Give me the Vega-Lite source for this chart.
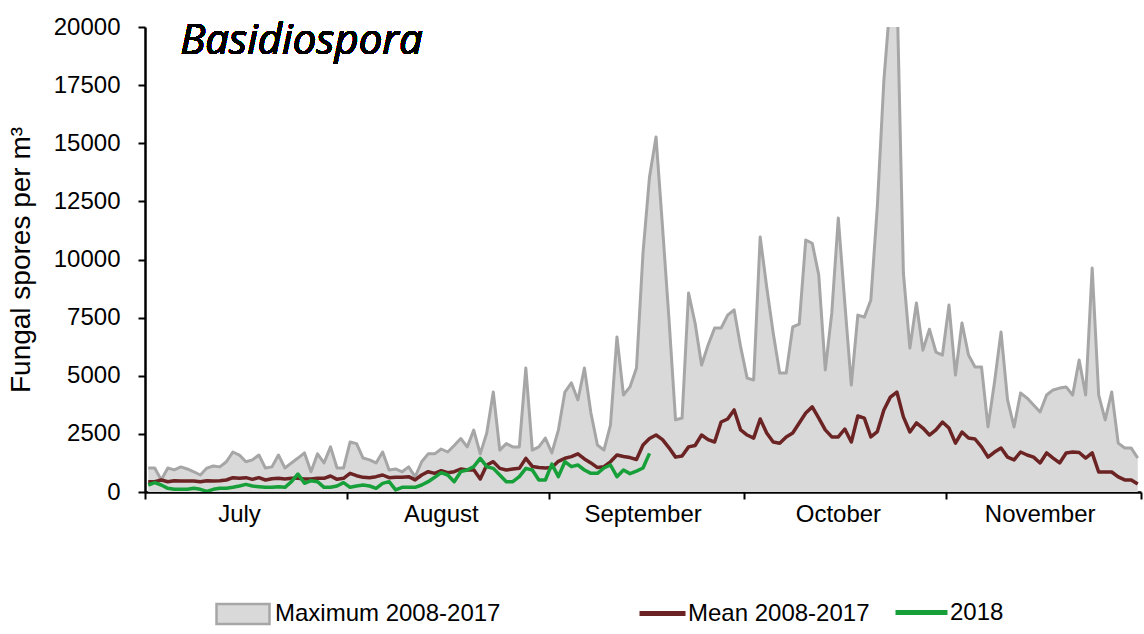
{
  "$schema": "https://vega.github.io/schema/vega-lite/v6.json",
  "width": 996,
  "height": 465,
  "autosize": {"type": "none"},
  "padding": {"left": 145, "top": 27, "right": 3, "bottom": 142},
  "background": "white",
  "config": {
    "view": {"stroke": null},
    "font": "Liberation Sans",
    "axis": {"grid": false, "domainColor": "black", "tickColor": "black", "labelColor": "black", "titleColor": "black", "labelFont": "Liberation Sans", "titleFont": "Liberation Sans"},
    "legend": {
      "orient": "none",
      "direction": "horizontal",
      "title": null,
      "labelFont": "Liberation Sans",
      "labelFontSize": 24,
      "labelColor": "black",
      "labelLimit": 600,
      "labelOffset": 4
    }
  },
  "resolve": {"scale": {"color": "independent"}, "legend": {"color": "independent"}},
  "data": {
    "values": [
      {"d":1,"max":1030,"mean":443,"y2018":301},{"d":2,"max":1030,"mean":443,"y2018":401},{"d":3,"max":520,"mean":516,"y2018":301},{"d":4,"max":1030,"mean":443,"y2018":158},{"d":5,"max":950,"mean":487,"y2018":115},
      {"d":6,"max":1080,"mean":473,"y2018":115},{"d":7,"max":990,"mean":473,"y2018":115},{"d":8,"max":870,"mean":473,"y2018":158},{"d":9,"max":730,"mean":443,"y2018":115},{"d":10,"max":1030,"mean":487,"y2018":30},
      {"d":11,"max":1120,"mean":473,"y2018":115},{"d":12,"max":1080,"mean":487,"y2018":158},{"d":13,"max":1300,"mean":516,"y2018":158},{"d":14,"max":1720,"mean":616,"y2018":201},{"d":15,"max":1590,"mean":588,"y2018":258},
      {"d":16,"max":1300,"mean":616,"y2018":330},{"d":17,"max":1380,"mean":545,"y2018":258},{"d":18,"max":1590,"mean":616,"y2018":229},{"d":19,"max":1030,"mean":516,"y2018":201},{"d":20,"max":1080,"mean":573,"y2018":201},
      {"d":21,"max":1590,"mean":588,"y2018":229},{"d":22,"max":1030,"mean":559,"y2018":201},{"d":23,"max":1250,"mean":588,"y2018":444},{"d":24,"max":1460,"mean":588,"y2018":774},{"d":25,"max":1680,"mean":559,"y2018":373},
      {"d":26,"max":870,"mean":559,"y2018":487},{"d":27,"max":1640,"mean":588,"y2018":444},{"d":28,"max":1250,"mean":588,"y2018":201},{"d":29,"max":1940,"mean":688,"y2018":201},{"d":30,"max":1030,"mean":545,"y2018":258},
      {"d":31,"max":1030,"mean":588,"y2018":401},{"d":32,"max":2150,"mean":803,"y2018":201},{"d":33,"max":2080,"mean":702,"y2018":258},{"d":34,"max":1460,"mean":631,"y2018":301},{"d":35,"max":1380,"mean":616,"y2018":258},
      {"d":36,"max":1250,"mean":659,"y2018":158},{"d":37,"max":1720,"mean":731,"y2018":373},{"d":38,"max":950,"mean":616,"y2018":444},{"d":39,"max":990,"mean":631,"y2018":90},{"d":40,"max":870,"mean":631,"y2018":201},
      {"d":41,"max":1080,"mean":659,"y2018":201},{"d":42,"max":650,"mean":520,"y2018":201},{"d":43,"max":1300,"mean":731,"y2018":301},{"d":44,"max":1640,"mean":874,"y2018":444},{"d":45,"max":1640,"mean":803,"y2018":631},
      {"d":46,"max":1850,"mean":917,"y2018":831},{"d":47,"max":1720,"mean":831,"y2018":731},{"d":48,"max":2000,"mean":874,"y2018":444},{"d":49,"max":2300,"mean":989,"y2018":874},{"d":50,"max":1940,"mean":946,"y2018":946},
      {"d":51,"max":2660,"mean":960,"y2018":1089},{"d":52,"max":1640,"mean":559,"y2018":1448},{"d":53,"max":2540,"mean":1161,"y2018":1089},{"d":54,"max":4300,"mean":1304,"y2018":1017},{"d":55,"max":1800,"mean":1017,"y2018":731},
      {"d":56,"max":2080,"mean":946,"y2018":444},{"d":57,"max":1940,"mean":989,"y2018":444},{"d":58,"max":1940,"mean":1017,"y2018":659},{"d":59,"max":5330,"mean":1448,"y2018":1017},{"d":60,"max":1800,"mean":1100,"y2018":946},
      {"d":61,"max":1940,"mean":1050,"y2018":516},{"d":62,"max":2320,"mean":1030,"y2018":516},{"d":63,"max":1680,"mean":1050,"y2018":1200},{"d":64,"max":2660,"mean":1320,"y2018":659},{"d":65,"max":4300,"mean":1450,"y2018":1304},
      {"d":66,"max":4690,"mean":1520,"y2018":1090},{"d":67,"max":3960,"mean":1640,"y2018":1161},{"d":68,"max":5330,"mean":1420,"y2018":946},{"d":69,"max":3400,"mean":1250,"y2018":803},{"d":70,"max":2020,"mean":1050,"y2018":803},
      {"d":71,"max":1800,"mean":1090,"y2018":1032},{"d":72,"max":2880,"mean":1300,"y2018":1161},{"d":73,"max":6670,"mean":1590,"y2018":659},{"d":74,"max":4170,"mean":1530,"y2018":946},{"d":75,"max":4520,"mean":1480,"y2018":790},
      {"d":76,"max":5330,"mean":1400,"y2018":900},{"d":77,"max":10280,"mean":2020,"y2018":1032},{"d":78,"max":13550,"mean":2300,"y2018":1663},{"d":79,"max":15270,"mean":2450},{"d":80,"max":11400,"mean":2250},
      {"d":81,"max":7400,"mean":1900},{"d":82,"max":3100,"mean":1500},{"d":83,"max":3180,"mean":1550},{"d":84,"max":8560,"mean":1940},{"d":85,"max":7270,"mean":2000},
      {"d":86,"max":5460,"mean":2450},{"d":87,"max":6320,"mean":2250},{"d":88,"max":7050,"mean":2150},{"d":89,"max":7050,"mean":3010},{"d":90,"max":7610,"mean":3140},
      {"d":91,"max":7830,"mean":3530},{"d":92,"max":6240,"mean":2670},{"d":93,"max":4900,"mean":2450},{"d":94,"max":4820,"mean":2320},{"d":95,"max":10970,"mean":3140},
      {"d":96,"max":8820,"mean":2540},{"d":97,"max":6840,"mean":2150},{"d":98,"max":5120,"mean":2100},{"d":99,"max":5120,"mean":2370},{"d":100,"max":7100,"mean":2540},
      {"d":101,"max":7220,"mean":2970},{"d":102,"max":10840,"mean":3400},{"d":103,"max":10700,"mean":3660},{"d":104,"max":9330,"mean":3180},{"d":105,"max":5250,"mean":2670},
      {"d":106,"max":7700,"mean":2370},{"d":107,"max":11780,"mean":2370},{"d":108,"max":8130,"mean":2710},{"d":109,"max":4600,"mean":2150},{"d":110,"max":7610,"mean":3270},
      {"d":111,"max":7520,"mean":3180},{"d":112,"max":8260,"mean":2370},{"d":113,"max":12300,"mean":2600},{"d":114,"max":17700,"mean":3530},{"d":115,"max":21200,"mean":4080},
      {"d":116,"max":21800,"mean":4300},{"d":117,"max":9420,"mean":3230},{"d":118,"max":6190,"mean":2580},{"d":119,"max":8130,"mean":2970},{"d":120,"max":6100,"mean":2750},
      {"d":121,"max":7000,"mean":2450},{"d":122,"max":6020,"mean":2670},{"d":123,"max":5890,"mean":3010},{"d":124,"max":8040,"mean":2750},{"d":125,"max":5030,"mean":2100},
      {"d":126,"max":7270,"mean":2580},{"d":127,"max":5890,"mean":2320},{"d":128,"max":5380,"mean":2280},{"d":129,"max":5380,"mean":1940},{"d":130,"max":2800,"mean":1500},
      {"d":131,"max":4730,"mean":1720},{"d":132,"max":6880,"mean":1890},{"d":133,"max":3960,"mean":1500},{"d":134,"max":2800,"mean":1380},{"d":135,"max":4260,"mean":1720},
      {"d":136,"max":4040,"mean":1590},{"d":137,"max":3740,"mean":1500},{"d":138,"max":3440,"mean":1250},{"d":139,"max":4170,"mean":1680},{"d":140,"max":4390,"mean":1460},
      {"d":141,"max":4470,"mean":1250},{"d":142,"max":4520,"mean":1680},{"d":143,"max":4170,"mean":1720},{"d":144,"max":5680,"mean":1700},{"d":145,"max":4170,"mean":1460},
      {"d":146,"max":9630,"mean":1680},{"d":147,"max":4170,"mean":860},{"d":148,"max":3100,"mean":860},{"d":149,"max":4300,"mean":860},{"d":150,"max":2100,"mean":650},
      {"d":151,"max":1890,"mean":520},{"d":152,"max":1890,"mean":520},{"d":153,"max":1460,"mean":340}
    ]
  },
  "encoding": {
    "x": {
      "type": "quantitative",
      "scale": {"domain": [0.5, 153.5], "nice": false, "zero": false},
      "axis": {
        "title": null,
        "values": [0.5, 31.5, 62.5, 92.5, 123.5, 153.5],
        "labelExpr": "datum.value < 1 ? 'July' : datum.value < 32 ? 'August' : datum.value < 63 ? 'September' : datum.value < 93 ? 'October' : datum.value < 124 ? 'November' : ''",
        "labelOffset": 94,
        "labelAlign": "center",
        "labelFontSize": 24,
        "labelPadding": 3,
        "labelFlush": false,
        "labelOverlap": false,
        "domainWidth": 2.5,
        "tickWidth": 2,
        "tickSize": 7
      }
    }
  },
  "layer": [
    {
      "mark": {"type": "area", "clip": true, "opacity": 1},
      "encoding": {
        "x": {"field": "d", "type": "quantitative"},
        "y": {
          "field": "max", "type": "quantitative",
          "scale": {"domain": [0, 20000], "nice": false},
          "axis": {
            "title": "Fungal  spores per m³",
            "titleFontSize": 28, "titleFontWeight": "normal", "titlePadding": 18,
            "values": [0, 2500, 5000, 7500, 10000, 12500, 15000, 17500, 20000],
            "format": "d",
            "labelFontSize": 24, "labelPadding": 18,
            "domainWidth": 2.5, "tickWidth": 2, "tickSize": 7
          }
        },
        "color": {
          "datum": "Maximum 2008-2017",
          "type": "nominal",
          "scale": {"domain": ["Maximum 2008-2017"], "range": ["#d9d9d9"]},
          "legend": {
            "legendX": 70,
            "legendY": 559,
            "symbolType": "M-1,-0.38H1V0.38H-1Z",
            "symbolSize": 2809,
            "symbolFillColor": "#d9d9d9",
            "symbolStrokeColor": "#a6a6a6",
            "symbolStrokeWidth": 2.5,
            "symbolOpacity": 1
          }
        }
      }
    },
    {
      "mark": {"type": "line", "clip": true, "stroke": "#a6a6a6", "strokeWidth": 3, "strokeJoin": "round"},
      "encoding": {
        "x": {"field": "d", "type": "quantitative"},
        "y": {"field": "max", "type": "quantitative"}
      }
    },
    {
      "mark": {"type": "line", "clip": true, "strokeWidth": 3.5, "strokeJoin": "round"},
      "encoding": {
        "x": {"field": "d", "type": "quantitative"},
        "y": {"field": "mean", "type": "quantitative"},
        "color": {
          "datum": "Mean 2008-2017",
          "type": "nominal",
          "scale": {"domain": ["Mean 2008-2017"], "range": ["#6b2323"]},
          "legend": {
            "legendX": 492,
            "legendY": 561,
            "labelOffset": 0,
            "symbolType": "stroke",
            "symbolSize": 2116,
            "symbolStrokeWidth": 5,
            "symbolStrokeColor": "#6b2323"
          }
        }
      }
    },
    {
      "mark": {"type": "line", "clip": true, "strokeWidth": 3.5, "strokeJoin": "round"},
      "encoding": {
        "x": {"field": "d", "type": "quantitative"},
        "y": {"field": "y2018", "type": "quantitative"},
        "color": {
          "datum": "2018",
          "type": "nominal",
          "scale": {"domain": ["2018"], "range": ["#17a03a"]},
          "legend": {
            "legendX": 748,
            "legendY": 557,
            "labelOffset": 0,
            "symbolType": "stroke",
            "symbolSize": 2704,
            "symbolStrokeWidth": 5,
            "symbolStrokeColor": "#17a03a"
          }
        }
      }
    },
    {
      "mark": {"type": "text", "font": "Open Sans", "fontStyle": "italic", "fontWeight": "normal", "fontSize": 42, "align": "left", "baseline": "alphabetic", "color": "black"},
      "encoding": {
        "x": {"datum": 5.9, "type": "quantitative"},
        "y": {"datum": 18840, "type": "quantitative"},
        "text": {"value": "Basidiospora"}
      }
    }
  ]
}
